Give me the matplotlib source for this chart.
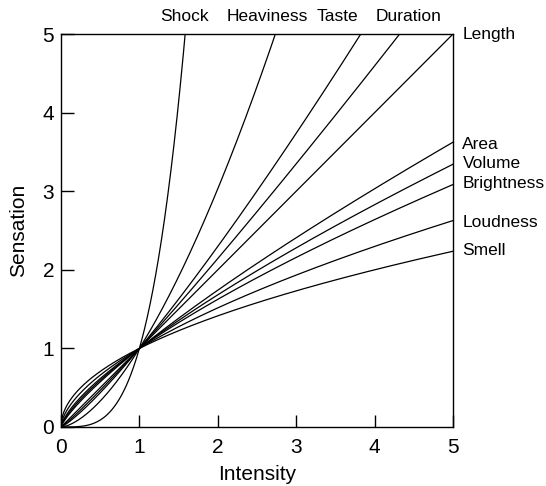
import numpy as np
import matplotlib
matplotlib.use("Agg")
import matplotlib.pyplot as plt

plt.rcParams['font.family'] = ['Liberation Sans', 'DejaVu Sans']

# Stevens power-law exponents
top_names = ["Shock", "Heaviness", "Taste", "Duration"]
top_exponents = [3.5, 1.6, 1.2, 1.1]
top_label_x = [1.57, 2.63, 3.53, 4.43]

right_names = ["Length", "Area", "Volume", "Brightness", "Loudness", "Smell"]
right_exponents = [1.0, 0.8, 0.75, 0.7, 0.6, 0.5]
right_label_y = [5.0, 3.6, 3.35, 3.1, 2.6, 2.24]

ticks = [0, 1, 2, 3, 4, 5]

fig = plt.figure(figsize=(5.46, 4.86), dpi=100)
ax = fig.add_axes([0.1117, 0.1214, 0.718, 0.8086])

x = np.linspace(0, 5, 1000)
for a in top_exponents + right_exponents:
    ax.plot(x, x ** a, color='black', lw=0.9)

for name, lx in zip(top_names, top_label_x):
    ax.text(lx, 5.13, name, ha='center', va='bottom', fontsize=12.5)
for name, ly in zip(right_names, right_label_y):
    ax.text(5.12, ly, name, ha='left', va='center', fontsize=12.5)

ax.set_xlim(0, 5)
ax.set_ylim(0, 5)
ax.set_xticks(ticks)
ax.set_yticks(ticks)
ax.tick_params(direction='in', length=9, width=1, labelsize=15)
ax.tick_params(axis='x', pad=8)
ax.tick_params(axis='y', pad=5)
ax.set_xlabel("Intensity", fontsize=15, labelpad=6)
ax.set_ylabel("Sensation", fontsize=15, labelpad=10)
for s in ax.spines.values():
    s.set_linewidth(1)

fig.savefig("out.png", dpi=100)
